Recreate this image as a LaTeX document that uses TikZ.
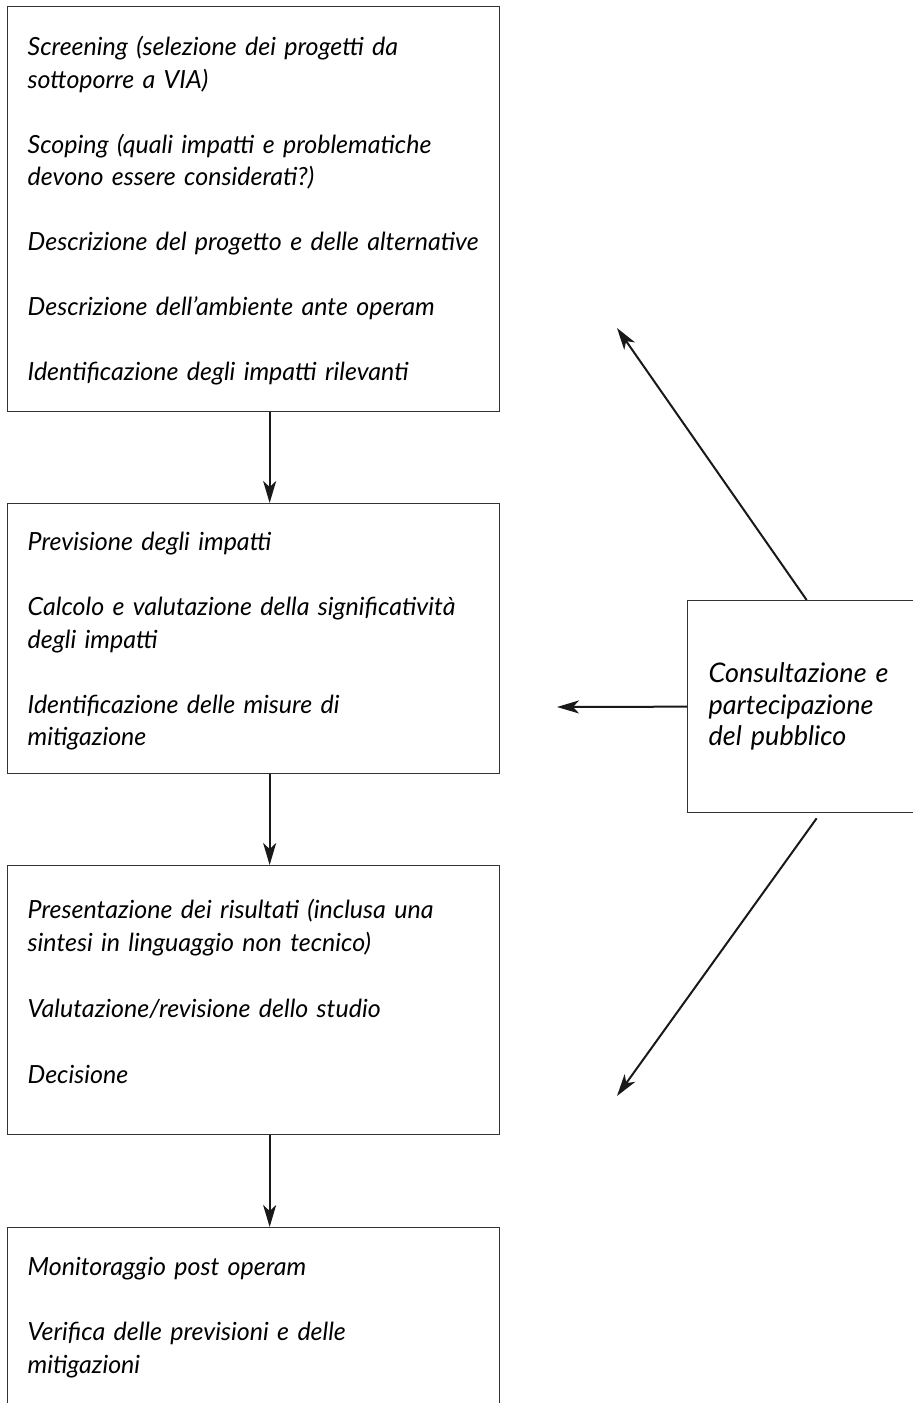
\documentclass[tikz,border=0pt]{standalone}
\usepackage{fontspec}
\setmainfont{Lato}
\usetikzlibrary{arrows.meta}
\hyphenpenalty=10000
\exhyphenpenalty=10000
\tikzset{
  stage/.style={draw=black!80, line width=0.65pt, anchor=north west, inner xsep=10pt, inner ysep=0pt,
    text width=226pt, align=left, font=\itshape\fontsize{12.5}{16.25}\selectfont},
  flow/.style={draw=black!90, line width=1pt, -{Stealth[length=11pt,width=6.5pt,inset=3pt]}}
}
\begin{document}
\begin{tikzpicture}[x=0.5pt,y=-0.5pt]
    \useasboundingbox (0,0) rectangle (912,1403);
    \node[stage, text height=24.5pt, text depth=178pt] (screen) at (7,6)
        {Screening (selezione dei progetti da\\ sottoporre a VIA)\\[16.25pt]
         Scoping (quali impatti e problematiche\\ devono essere considerati?)\\[16.25pt]
         \mbox{Descrizione del progetto e delle alternative}\\[16.25pt]
         Descrizione dell’ambiente ante operam\\[16.25pt]
         Identificazione degli impatti rilevanti};
    \node[stage, text height=23.5pt, text depth=111.5pt] (prev) at (7,503)
        {Previsione degli impatti\\[16.25pt]
         \mbox{Calcolo e valutazione della significatività}\\ degli impatti\\[16.25pt]
         Identificazione delle misure di\\ mitigazione};
    \node[stage, text height=26.5pt, text depth=108pt] (pres) at (7,865)
        {Presentazione dei risultati (inclusa una\\ sintesi in linguaggio non tecnico)\\[16.75pt]
         Valutazione/revisione dello studio\\[16.75pt]
         Decisione};
    \node[stage, text height=24pt, text depth=72.5pt] (monit) at (7,1227)
        {Monitoraggio post operam\\[16.25pt]
         Verifica delle previsioni e delle\\ mitigazioni};
    \node[stage, text width=110pt, inner xsep=10.5pt, text height=41pt, text depth=65pt,
          font=\itshape\fontsize{13.5}{15.75}\selectfont] (consult) at (687,600)
        {Consultazione e\\ partecipazione\\ del pubblico};
    \coordinate (tipup) at (617,328);
    \coordinate (tipleft) at (557,707);
    \coordinate (tipdown) at (617,1096);
    \draw[flow] ([xshift=8pt]screen.south) -- ([xshift=8pt]prev.north);
    \draw[flow] ([xshift=8pt]prev.south) -- ([xshift=8pt]pres.north);
    \draw[flow] ([xshift=8pt]pres.south) -- ([xshift=8pt]monit.north);
    \draw[flow] ([xshift=-6pt]consult.north) -- (tipup);
    \draw[flow] (consult.west) -- (tipleft);
    \draw[flow] ([xshift=-1pt,yshift=-2.5pt]consult.south) -- (tipdown);
\end{tikzpicture}
\end{document}
